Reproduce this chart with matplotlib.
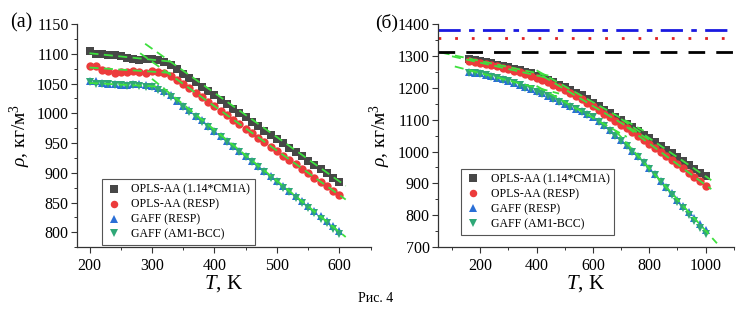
import numpy as np
import matplotlib
matplotlib.use("Agg")
from matplotlib import pyplot as plt
from matplotlib.ticker import MultipleLocator

plt.rcParams['font.family'] = ['Liberation Serif', 'DejaVu Serif']
plt.rcParams['mathtext.fontset'] = 'custom'
plt.rcParams['mathtext.rm'] = 'Liberation Serif'
plt.rcParams['mathtext.it'] = 'Liberation Serif:italic'

labels = ["OPLS-AA (1.14*CM1A)", "OPLS-AA (RESP)", "GAFF (RESP)", "GAFF (AM1-BCC)"]
colors = ["#474747", "#ec3b3b", "#2a6fd6", "#2fa877"]
markers = ["s", "o", "^", "v"]
fit_color = "#3ee03e"

# (a) density vs temperature, 200..600 K
T_a = np.arange(200, 601, 10)
cm1a_a = [1104, 1100, 1099, 1098, 1098, 1097, 1093, 1091, 1089, 1091, 1092,
          1090, 1087, 1082, 1074, 1066, 1059, 1052, 1044, 1037, 1030, 1022,
          1015, 1008, 1000, 993, 986, 979, 971, 964, 957, 950, 942, 935, 928,
          920, 913, 906, 899, 891, 884]
resp_a = [1080, 1079, 1073, 1071, 1067, 1069, 1070, 1072, 1069, 1068, 1072,
          1070, 1067, 1062, 1056, 1049, 1042, 1034, 1027, 1019, 1012, 1004,
          997, 989, 982, 974, 967, 959, 952, 944, 937, 929, 922, 914, 907,
          899, 892, 884, 877, 869, 862]
gaff_resp_a = [1055, 1054, 1051, 1050, 1049, 1047, 1047, 1050, 1049, 1047,
               1046, 1042, 1037, 1030, 1021, 1013, 1005, 996, 988, 979, 971,
               962, 954, 945, 937, 929, 920, 912, 903, 895, 886, 878, 870,
               861, 853, 844, 836, 827, 819, 810, 802]
gaff_bcc_a = [1052, 1049, 1050, 1049, 1048, 1048, 1046, 1048, 1046, 1045,
              1044, 1040, 1035, 1028, 1020, 1011, 1003, 994, 986, 977, 969,
              960, 952, 943, 935, 926, 918, 909, 901, 892, 884, 875, 867,
              858, 850, 841, 832, 823, 815, 806, 797]

# linear fits: (T_start, T_end, rho_start, rho_end)
fits_a = [(200, 330, 1101, 1087), (289, 610, 1117, 878),
          (200, 330, 1077, 1068), (281, 610, 1101, 855),
          (200, 310, 1051, 1045), (300, 610, 1058, 792)]

# (б) density vs temperature, 160..1000 K
T_b = np.arange(160, 1001, 20)
cm1a_b = [1290, 1287, 1284, 1280, 1277, 1273, 1269, 1265, 1260, 1256, 1251,
          1245, 1238, 1232, 1225, 1218, 1210, 1202, 1194, 1185, 1176, 1164,
          1152, 1142, 1131, 1120, 1109, 1098, 1087, 1076, 1065, 1053, 1042,
          1030, 1018, 1006, 994, 982, 970, 958, 946, 934, 922]
resp_b = [1283, 1281, 1279, 1275, 1271, 1267, 1263, 1259, 1254, 1250, 1244,
          1238, 1232, 1225, 1218, 1210, 1202, 1193, 1184, 1174, 1164, 1153,
          1142, 1131, 1119, 1108, 1096, 1084, 1073, 1061, 1049, 1037, 1025,
          1012, 999, 986, 973, 960, 947, 933, 920, 906, 893]
gaff_resp_b = [1251, 1248, 1245, 1241, 1237, 1232, 1227, 1222, 1216, 1210,
               1203, 1197, 1190, 1183, 1175, 1167, 1159, 1150, 1142, 1134,
               1126, 1118, 1110, 1096, 1082, 1067, 1052, 1036, 1020, 1003,
               985, 967, 948, 929, 909, 889, 869, 849, 829, 810, 791, 772, 753]
gaff_bcc_b = [1248, 1245, 1243, 1239, 1235, 1230, 1225, 1220, 1214, 1208,
              1201, 1195, 1188, 1181, 1173, 1165, 1157, 1148, 1140, 1132,
              1124, 1116, 1107, 1093, 1079, 1064, 1049, 1033, 1017, 1000,
              982, 964, 945, 925, 905, 884, 864, 843, 822, 802, 782, 761, 740]

fits_b = [(60, 450, 1311, 1237), (400, 780, 1255, 1065), (700, 1020, 1102, 910),
          (100, 450, 1299, 1229), (420, 800, 1238, 1037), (720, 1020, 1077, 882),
          (110, 480, 1267, 1182), (400, 720, 1206, 1046), (680, 1040, 1065, 712)]

# reference density levels
ref_rho = [1312, 1356, 1382]
ref_color = ["black", "#e02020", "#1a1ae0"]
ref_style = [(0, (6, 4)), (0, (1, 5)), (0, (8, 3, 2, 3))]

fig = plt.figure(figsize=(7.55, 3.26), dpi=100)
ax1 = fig.add_axes([0.102, 0.242, 0.389, 0.684])
ax2 = fig.add_axes([0.580, 0.242, 0.392, 0.684])


def style_axes(ax):
    for s in ("top", "right"):
        ax.spines[s].set_visible(False)
    for s in ("left", "bottom"):
        ax.spines[s].set_color("#333333")
        ax.spines[s].set_linewidth(0.9)
    ax.tick_params(which="major", direction="out", length=4, width=0.8,
                   labelsize=11.5, colors="#333333", labelcolor="black")
    ax.tick_params(axis="y", which="major", pad=2)
    ax.tick_params(which="minor", direction="out", length=2.5, width=0.7,
                   colors="#333333")
    ax.set_xlabel(r"$T$, K", fontsize=15, labelpad=0)
    ax.set_ylabel(r"$\rho$, кг/м$^3$", fontsize=14, labelpad=3)


def draw_panel(ax, T, series, fits):
    for y, lab, c, m in zip(series, labels, colors, markers):
        ax.plot(T, y, linestyle="none", marker=m, color=c, markersize=6,
                markeredgewidth=0, label=lab)
    for t0, t1, r0, r1 in fits:
        ax.plot([t0, t1], [r0, r1], color=fit_color, linestyle=(0, (5, 3)),
                linewidth=1.3)


draw_panel(ax1, T_a, [cm1a_a, resp_a, gaff_resp_a, gaff_bcc_a], fits_a)
ax1.set_xlim(180, 650)
ax1.set_ylim(775, 1150)
ax1.xaxis.set_major_locator(MultipleLocator(100))
ax1.xaxis.set_minor_locator(MultipleLocator(50))
ax1.yaxis.set_major_locator(MultipleLocator(50))
ax1.yaxis.set_minor_locator(MultipleLocator(25))
style_axes(ax1)

draw_panel(ax2, T_b, [cm1a_b, resp_b, gaff_resp_b, gaff_bcc_b], fits_b)
for r, c, ls in zip(ref_rho, ref_color, ref_style):
    ax2.axhline(r, color=c, linestyle=ls, linewidth=2)
ax2.set_xlim(50, 1100)
ax2.set_ylim(700, 1400)
ax2.xaxis.set_major_locator(MultipleLocator(200))
ax2.xaxis.set_minor_locator(MultipleLocator(100))
ax2.yaxis.set_major_locator(MultipleLocator(100))
ax2.yaxis.set_minor_locator(MultipleLocator(50))
style_axes(ax2)

leg_kw = dict(loc="upper left", fontsize=8.5, frameon=True, fancybox=False,
              edgecolor="#555555", framealpha=1, handlelength=1.2,
              handletextpad=0.9, labelspacing=0.25, borderpad=0.4,
              markerscale=0.9, bbox_transform=fig.transFigure)
l1 = ax1.legend(bbox_to_anchor=(0.127, 0.469), **leg_kw)
l2 = ax2.legend(bbox_to_anchor=(0.603, 0.500), **leg_kw)
for leg in (l1, l2):
    leg.get_frame().set_linewidth(0.8)

fig.text(0.014, 0.93, "(a)", fontsize=14.5, va="center", ha="left")
fig.text(0.497, 0.93, "(б)", fontsize=14, va="center", ha="left")
fig.text(0.497, 0.085, "Рис. 4", fontsize=10, ha="center", va="center")

fig.savefig("out.png", dpi=100)
